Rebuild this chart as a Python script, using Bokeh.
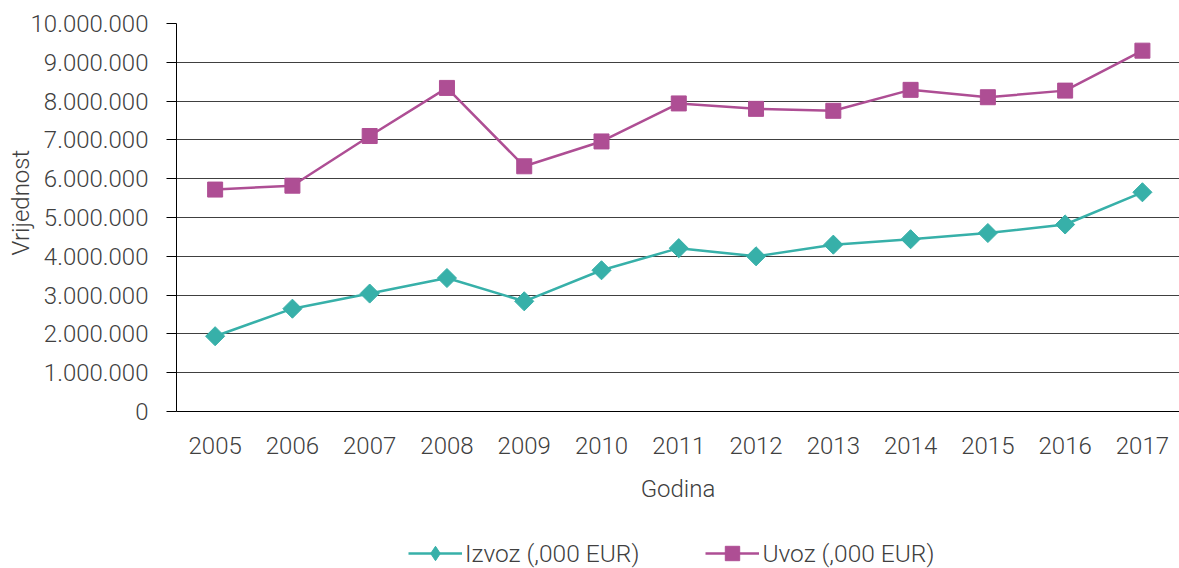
from bokeh.plotting import figure
from bokeh.models import Range1d, FixedTicker, Legend, LegendItem, Title
from bokeh.layouts import column
from bokeh.embed import file_html
from bokeh.resources import INLINE
import numpy as np

years = [2005, 2006, 2007, 2008, 2009, 2010, 2011, 2012, 2013, 2014, 2015, 2016, 2017]
izvoz = [1940000, 2650000, 3040000, 3440000, 2840000, 3640000, 4210000,
         4000000, 4300000, 4440000, 4600000, 4820000, 5650000]
uvoz = [5720000, 5820000, 7100000, 8340000, 6320000, 6960000, 7940000,
        7800000, 7750000, 8290000, 8100000, 8270000, 9300000]
y_ticks = [0, 1000000, 2000000, 3000000, 4000000, 5000000, 6000000,
           7000000, 8000000, 9000000, 10000000]
y_tick_labels = ["0", "1.000.000", "2.000.000", "3.000.000", "4.000.000", "5.000.000",
                 "6.000.000", "7.000.000", "8.000.000", "9.000.000", "10.000.000"]
x_tick_labels = [str(y) for y in years]
series_names = ["Izvoz (,000 EUR)", "Uvoz (,000 EUR)"]

TEAL = "#37b0a9"
PURPLE = "#ae4e94"
TXT = "#404040"
FONT = "Roboto Light"
FS = "24px"

p = figure(width=1179, height=520, output_backend="svg", toolbar_location=None,
           x_range=Range1d(2004.5, 2017.48), y_range=Range1d(0, 10000000),
           min_border_left=176, min_border_right=0, min_border_top=23,
           min_border_bottom=109)

p.outline_line_color = None
p.xgrid.visible = False
p.ygrid.grid_line_color = "#404040"
p.ygrid.grid_line_width = 1

# y axis
p.yaxis.ticker = FixedTicker(ticks=y_ticks)
p.yaxis.major_label_overrides = {t: l for t, l in zip(y_ticks, y_tick_labels)}
p.yaxis.major_tick_out = 10
p.yaxis.major_tick_in = 0
p.yaxis.minor_tick_line_color = None
p.yaxis.axis_line_color = "black"
p.yaxis.major_tick_line_color = "black"
p.yaxis.major_label_standoff = 18
p.yaxis.major_label_text_font = FONT
p.yaxis.major_label_text_font_size = FS
p.yaxis.major_label_text_color = TXT

ytitle = Title(text="Vrijednost", align="left", offset=156, standoff=-14,
               text_font=FONT, text_font_size=FS, text_font_style="normal",
               text_color=TXT)
p.add_layout(ytitle, "left")

# x axis
p.xaxis.ticker = FixedTicker(ticks=years)
p.xaxis.major_label_overrides = {y: l for y, l in zip(years, x_tick_labels)}
p.xaxis.major_tick_out = 0
p.xaxis.major_tick_in = 0
p.xaxis.minor_tick_line_color = None
p.xaxis.axis_line_color = "black"
p.xaxis.major_label_standoff = 25
p.xaxis.major_label_text_font = FONT
p.xaxis.major_label_text_font_size = FS
p.xaxis.major_label_text_color = TXT
p.xaxis.axis_label = "Godina"
p.xaxis.axis_label_text_font = FONT
p.xaxis.axis_label_text_font_size = FS
p.xaxis.axis_label_text_font_style = "normal"
p.xaxis.axis_label_text_color = TXT
p.xaxis.axis_label_standoff = 18

l1 = p.line(years, izvoz, line_color=TEAL, line_width=2.5)
m1 = p.scatter(years, izvoz, marker="square", size=13.5, angle=np.pi / 4,
               fill_color=TEAL, line_color=TEAL)
l2 = p.line(years, uvoz, line_color=PURPLE, line_width=2.5)
m2 = p.scatter(years, uvoz, marker="square", size=15,
               fill_color=PURPLE, line_color=PURPLE)

# legend strip below the chart (its swatch renderers sit outside the visible range)
q = figure(width=1179, height=48, output_backend="svg", toolbar_location=None,
           x_range=Range1d(0, 1), y_range=Range1d(0, 1),
           x_axis_location=None, y_axis_location=None,
           min_border_left=0, min_border_right=0, min_border_top=0,
           min_border_bottom=0)
q.outline_line_color = None
q.xgrid.visible = False
q.ygrid.visible = False
off = [-10, -9]
ql1 = q.line(off, off, line_color=TEAL, line_width=2.5)
qm1 = q.scatter(off, off, marker="diamond", size=16,
                fill_color=TEAL, line_color=TEAL)
ql2 = q.line(off, off, line_color=PURPLE, line_width=2.5)
qm2 = q.scatter(off, off, marker="square", size=16,
                fill_color=PURPLE, line_color=PURPLE)

legend = Legend(items=[LegendItem(label=series_names[0], renderers=[ql1, qm1]),
                       LegendItem(label=series_names[1], renderers=[ql2, qm2])],
                location=(232, -3), orientation="horizontal",
                border_line_color=None, background_fill_alpha=0,
                padding=0, margin=0, spacing=66, glyph_width=54, glyph_height=36,
                label_standoff=3, label_text_font=FONT, label_text_font_size="24.5px",
                label_text_color=TXT, label_height=24)
q.add_layout(legend, "center")

open("out.html", "w").write(file_html(column(p, q, spacing=0), INLINE))
